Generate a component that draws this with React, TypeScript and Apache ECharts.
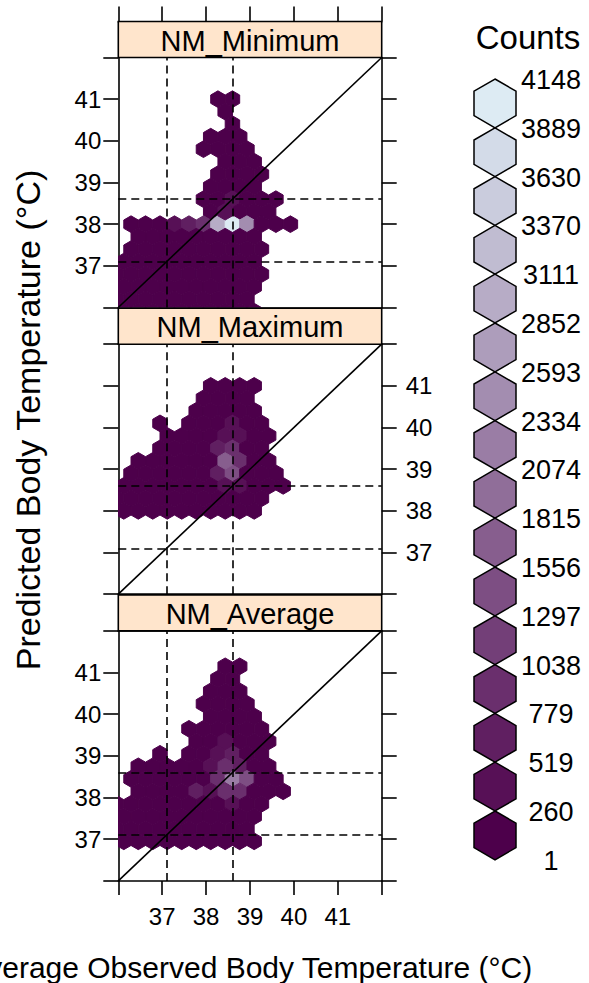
import React, { useEffect, useRef } from 'react';
import * as echarts from 'echarts';

// ---------- data ----------
const PANEL_NAMES = ['NM_Minimum', 'NM_Maximum', 'NM_Average'];
const AXIS_MIN = 36;
const AXIS_MAX = 42;
const REF_LINES = [37.1, 38.6];
const IDENTITY = [36, 42];
const HEX_DX = 0.33;
const HEX_DY = 0.3;
const BASE_COUNT = 120;

// hex-bin runs per panel: [y, first cell x, last cell x]
const minRows = [
  [41.0, 38.27, 38.6], [40.7, 38.435, 38.435], [40.4, 38.6, 38.6], [40.1, 38.105, 38.765],
  [39.8, 37.94, 38.93], [39.5, 38.435, 39.095], [39.2, 38.27, 39.26], [38.9, 38.105, 39.095],
  [38.6, 37.94, 39.59], [38.3, 38.105, 39.425], [38.0, 36.29, 39.92], [37.7, 36.455, 39.095],
  [37.4, 36.29, 39.26], [37.1, 36.125, 39.095], [36.8, 35.96, 39.26], [36.5, 36.125, 39.095],
  [36.2, 35.96, 38.93], [35.9, 36.125, 39.095],
];
const minPeaks = [
  [37.28, 38.0, 450], [37.61, 38.0, 550], [37.94, 38.0, 1000], [38.27, 38.0, 2900],
  [38.6, 38.0, 4148], [38.93, 38.0, 2550], [38.435, 38.3, 500], [38.6, 38.6, 300],
];

const maxRows = [
  [41.0, 38.105, 39.095], [40.7, 37.94, 38.93], [40.4, 37.775, 39.095], [40.1, 36.95, 36.95],
  [40.1, 37.61, 39.26], [39.8, 37.115, 39.425], [39.5, 36.95, 39.26], [39.2, 36.455, 39.425],
  [38.9, 36.29, 39.59], [38.6, 36.125, 39.755], [38.3, 35.96, 39.26], [38.0, 36.125, 39.095],
];
const maxPeaks = [
  [38.6, 40.1, 350], [38.435, 39.8, 500], [38.765, 39.8, 350], [38.27, 39.5, 600],
  [38.6, 39.5, 900], [38.435, 39.2, 1700], [38.765, 39.2, 1000], [38.27, 38.9, 700],
  [38.6, 38.9, 1400], [38.435, 38.6, 500], [38.765, 38.6, 400],
];

const avgRows = [
  [41.15, 38.435, 38.765], [40.85, 38.27, 38.6], [40.55, 38.105, 38.765], [40.25, 37.94, 38.93],
  [39.95, 38.105, 39.095], [39.65, 37.61, 39.26], [39.35, 37.775, 39.425], [39.05, 36.95, 36.95],
  [39.05, 37.61, 39.26], [38.75, 36.455, 39.425], [38.45, 36.29, 39.59], [38.15, 36.455, 39.755],
  [37.85, 35.96, 39.26], [37.55, 36.125, 39.095], [37.25, 35.96, 38.93], [36.95, 36.125, 39.095],
];
const avgPeaks = [
  [38.435, 39.35, 300], [38.765, 39.35, 250], [38.27, 39.05, 300], [38.6, 39.05, 600],
  [38.105, 38.75, 300], [38.435, 38.75, 900], [38.765, 38.75, 600], [38.27, 38.45, 1000],
  [38.6, 38.45, 2200], [38.93, 38.45, 1300], [37.775, 38.15, 700], [38.105, 38.15, 500],
  [38.435, 38.15, 800], [38.765, 38.15, 900], [38.6, 37.85, 300],
];

const LEGEND_BREAKS = [1, 260, 519, 779, 1038, 1297, 1556, 1815, 2074, 2334, 2593, 2852, 3111, 3370, 3630, 3889, 4148];
const PALETTE = ['#4D004B', '#571056', '#601F61', '#6A2F6D', '#733F78', '#7D4E83', '#875E8E', '#906E99',
  '#9A7DA5', '#A38DB0', '#AD9DBB', '#B7ACC6', '#C0BCD1', '#CACCDD', '#D3DBE8', '#DDEBF3'];

// ---------- helpers ----------
function buildCells(rows: number[][], peaks: number[][]) {
  const map = new Map<string, number[]>();
  const key = (x: number, y: number) => x.toFixed(2) + '|' + y.toFixed(2);
  rows.forEach(([y, x0, x1]) => {
    const n = Math.round((x1 - x0) / HEX_DX);
    for (let i = 0; i <= n; i++) {
      const x = x0 + i * HEX_DX;
      map.set(key(x, y), [x, y, BASE_COUNT]);
    }
  });
  peaks.forEach(([x, y, c]) => map.set(key(x, y), [x, y, c]));
  return Array.from(map.values());
}
function colorFor(c: number) {
  for (let i = 0; i < PALETTE.length; i++) {
    if (c < LEGEND_BREAKS[i + 1]) return PALETTE[i];
  }
  return PALETTE[PALETTE.length - 1];
}

const FONT = 'Liberation Sans, Arial, Helvetica, sans-serif';
const GRID_LEFT = 118.3;
const GRID_W = 263.4;
const GRID_H = 250;
const GRID_TOPS = [57.5, 344.2, 630.9];
const STRIP_H = 36;
const LINE_W = 1.6;

export default function App() {
  const ref = useRef<HTMLDivElement>(null);
  useEffect(() => {
    document.body.style.margin = '0';
    const chart = echarts.init(ref.current!, undefined, { renderer: 'svg' });
    const panels = [buildCells(minRows, minPeaks), buildCells(maxRows, maxPeaks), buildCells(avgRows, avgPeaks)];
    const lbl = (v: number) => (v === AXIS_MIN || v === AXIS_MAX ? '' : String(v));
    const axisLine = { show: true, lineStyle: { color: '#000', width: LINE_W } };
    const grids: any[] = [];
    const xAxes: any[] = [];
    const yAxes: any[] = [];
    const series: any[] = [];
    const graphics: any[] = [];

    GRID_TOPS.forEach((top, i) => {
      grids.push({ left: GRID_LEFT, top, width: GRID_W, height: GRID_H, containLabel: false });
      const base = { type: 'value', gridIndex: i, min: AXIS_MIN, max: AXIS_MAX, interval: 1, splitLine: { show: false } };
      xAxes.push({
        ...base, position: 'bottom', axisLine,
        axisTick: { show: i === 2, length: 14, lineStyle: { color: '#000', width: LINE_W } },
        axisLabel: { show: i === 2, formatter: lbl, fontSize: 24, color: '#000', fontFamily: FONT, margin: 24 },
      });
      xAxes.push({
        ...base, position: 'top', offset: i === 0 ? STRIP_H : 0, axisLine,
        axisTick: { show: i === 0, length: 15, lineStyle: { color: '#000', width: LINE_W } },
        axisLabel: { show: false },
      });
      yAxes.push({
        ...base, position: 'left', axisLine,
        axisTick: { show: true, length: 15, lineStyle: { color: '#000', width: LINE_W } },
        axisLabel: { show: i !== 1, formatter: lbl, fontSize: 24, color: '#000', fontFamily: FONT, margin: 17 },
      });
      yAxes.push({
        ...base, position: 'right', axisLine,
        axisTick: { show: true, length: 15, lineStyle: { color: '#000', width: LINE_W } },
        axisLabel: { show: i === 1, formatter: lbl, fontSize: 24, color: '#000', fontFamily: FONT, margin: 24 },
      });
      series.push({
        type: 'custom', xAxisIndex: 2 * i, yAxisIndex: 2 * i, clip: true, z: 1,
        data: panels[i],
        renderItem: (params: any, api: any) => {
          const c = api.coord([api.value(0), api.value(1)]);
          const s = api.size([HEX_DX, HEX_DY]);
          const hw = s[0] / 2;
          const R = s[1] / 1.5;
          const col = colorFor(api.value(2));
          return {
            type: 'polygon',
            shape: { points: [[c[0], c[1] - R], [c[0] + hw, c[1] - R / 2], [c[0] + hw, c[1] + R / 2],
              [c[0], c[1] + R], [c[0] - hw, c[1] + R / 2], [c[0] - hw, c[1] - R / 2]] },
            style: { fill: col, stroke: col, lineWidth: 1 },
          };
        },
      });
      series.push({
        type: 'line', xAxisIndex: 2 * i, yAxisIndex: 2 * i, z: 5, symbol: 'none', silent: true,
        data: [[IDENTITY[0], IDENTITY[0]], [IDENTITY[1], IDENTITY[1]]],
        lineStyle: { color: '#000', width: LINE_W },
        markLine: {
          silent: true, symbol: ['none', 'none'], label: { show: false },
          lineStyle: { color: '#000', type: [8, 5], width: LINE_W },
          data: [...REF_LINES.map((v) => ({ xAxis: v })), ...REF_LINES.map((v) => ({ yAxis: v }))],
        },
      });
      graphics.push({
        type: 'rect', shape: { x: GRID_LEFT, y: top - STRIP_H, width: GRID_W, height: STRIP_H },
        style: { fill: '#FFE5CC', stroke: '#000', lineWidth: LINE_W }, z: 10,
      });
      graphics.push({
        type: 'text', x: GRID_LEFT + GRID_W / 2, y: top - STRIP_H / 2 + 1, z: 11,
        style: { text: PANEL_NAMES[i], fontSize: 29, fontFamily: FONT, fill: '#000', textAlign: 'center', textVerticalAlign: 'middle' },
      });
    });

    // colour key
    const LX = 495, LHW = 21, LTOP = 79, LSTEP = 48.8, LV = 12.2;
    PALETTE.forEach((col, i) => {
      const t = LTOP + LSTEP * (PALETTE.length - 1 - i);
      const b = t + LSTEP;
      graphics.push({
        type: 'polygon', z: 10,
        shape: { points: [[LX, t], [LX + LHW, t + LV], [LX + LHW, b - LV], [LX, b], [LX - LHW, b - LV], [LX - LHW, t + LV]] },
        style: { fill: col, stroke: '#000', lineWidth: 1.5 },
      });
    });
    LEGEND_BREAKS.forEach((v, j) => {
      graphics.push({
        type: 'text', x: 551, y: LTOP + LSTEP * (LEGEND_BREAKS.length - 1 - j) + 1, z: 11,
        style: { text: String(v), fontSize: 27, fontFamily: FONT, fill: '#000', textAlign: 'center', textVerticalAlign: 'middle' },
      });
    });
    graphics.push({
      type: 'text', x: 528, y: 37, z: 11,
      style: { text: 'Counts', fontSize: 33, fontFamily: FONT, fill: '#000', textAlign: 'center', textVerticalAlign: 'middle' },
    });
    graphics.push({
      type: 'text', x: 250, y: 967, z: 11,
      style: { text: 'Average Observed Body Temperature (°C)', fontSize: 30, fontFamily: FONT, fill: '#000', textAlign: 'center', textVerticalAlign: 'middle' },
    });
    graphics.push({
      type: 'text', x: 28, y: 420, z: 11, rotation: Math.PI / 2,
      style: { text: 'Predicted Body Temperature (°C)', fontSize: 34, fontFamily: FONT, fill: '#000', textAlign: 'center', textVerticalAlign: 'middle' },
    });

    chart.setOption({
      animation: false,
      backgroundColor: '#fff',
      grid: grids,
      xAxis: xAxes,
      yAxis: yAxes,
      series,
      graphic: graphics,
    });
    return () => chart.dispose();
  }, []);
  return <div ref={ref} style={{ width: 589, height: 983 }} />;
}
